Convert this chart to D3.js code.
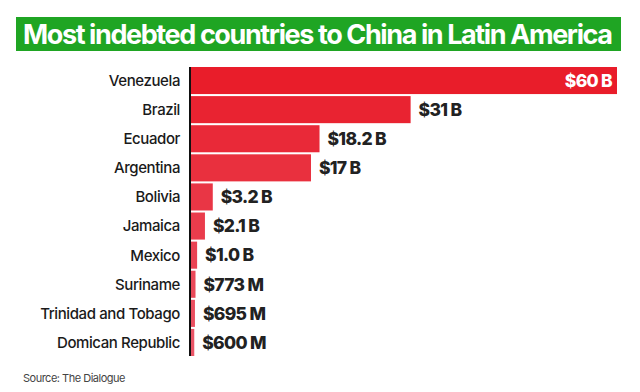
<!DOCTYPE html>
<html><head><meta charset="utf-8">
<script src="https://cdn.jsdelivr.net/npm/d3@7"></script>
<style>body{margin:0;background:#fff}svg{display:block}</style>
</head><body><svg id="c" width="640" height="392"></svg>
<script>
const title = "Most indebted countries to China in Latin America";
const source = "Source: The Dialogue";
const countries = ["Venezuela","Brazil","Ecuador","Argentina","Bolivia","Jamaica","Mexico","Suriname","Trinidad and Tobago","Domican Republic"];
const valuesB = [60, 31, 18.2, 17, 3.2, 2.1, 1.0, 0.773, 0.695, 0.6];
const valueLabels = ["$60 B","$31 B","$18.2 B","$17 B","$3.2 B","$2.1 B","$1.0 B","$773 M","$695 M","$600 M"];

const svg = d3.select("#c");
const font = "Inter, 'Liberation Sans', Arial, sans-serif";

// title
svg.append("rect").attr("x",16).attr("y",17).attr("width",605).attr("height",34).attr("fill","#1fa523");
svg.append("text").attr("x",23).attr("y",44).attr("fill","#fff").attr("font-family",font)
  .attr("font-weight","bold").attr("font-size",27).attr("letter-spacing","-1.4")
  .text(title)
  .each(function(){ const w=this.getComputedTextLength(); if (w>590) d3.select(this).attr("textLength",590).attr("lengthAdjust","spacingAndGlyphs"); });

const x = d3.scaleLinear().domain([0,60]).range([190,617]);
const y = d3.scaleBand().domain(countries).range([67,356]).paddingInner(0.07).paddingOuter(0.0);
const color = d3.scaleLinear().domain([0, countries.length-1]).range(["#e91d2a","#ea5567"]);

const data = countries.map((c,i)=>({c, v:valuesB[i], l:valueLabels[i], i}));

svg.selectAll("rect.bar").data(data).join("rect").attr("class","bar")
  .attr("x",x(0)).attr("y",d=>y(d.c)).attr("height",y.bandwidth())
  .attr("width",d=>Math.max(4, x(d.v)-x(0))).attr("fill",d=>color(d.i));

// axis line
svg.append("line").attr("x1",x(0)).attr("x2",x(0)).attr("y1",67).attr("y2",356)
  .attr("stroke","#111").attr("stroke-width",2);

// country labels
svg.selectAll("text.cat").data(data).join("text").attr("class","cat")
  .attr("x",180).attr("y",d=>y(d.c)+y.bandwidth()/2).attr("dy","0.36em")
  .attr("text-anchor","end").attr("font-family",font).attr("font-size",15).attr("font-weight","500")
  .attr("fill","#1a1a1a").attr("letter-spacing","-0.4")
  .text(d=>d.c);

// value labels
svg.selectAll("text.val").data(data).join("text").attr("class","val")
  .attr("x",d=> d.i===0 ? x(d.v)-5 : Math.max(x(d.v), x(0)+4)+8)
  .attr("y",d=>y(d.c)+y.bandwidth()/2).attr("dy","0.36em")
  .attr("text-anchor",d=>d.i===0?"end":"start")
  .attr("font-family",font).attr("font-size",17.5).attr("font-weight","800")
  .attr("letter-spacing","-0.7")
  .attr("fill",d=>d.i===0?"#fff":"#222")
  .text(d=>d.l);

svg.append("text").attr("x",23).attr("y",382).attr("font-family",font).attr("font-size",11)
  .attr("fill","#444").attr("letter-spacing","-0.5").text(source);
</script></body></html>
